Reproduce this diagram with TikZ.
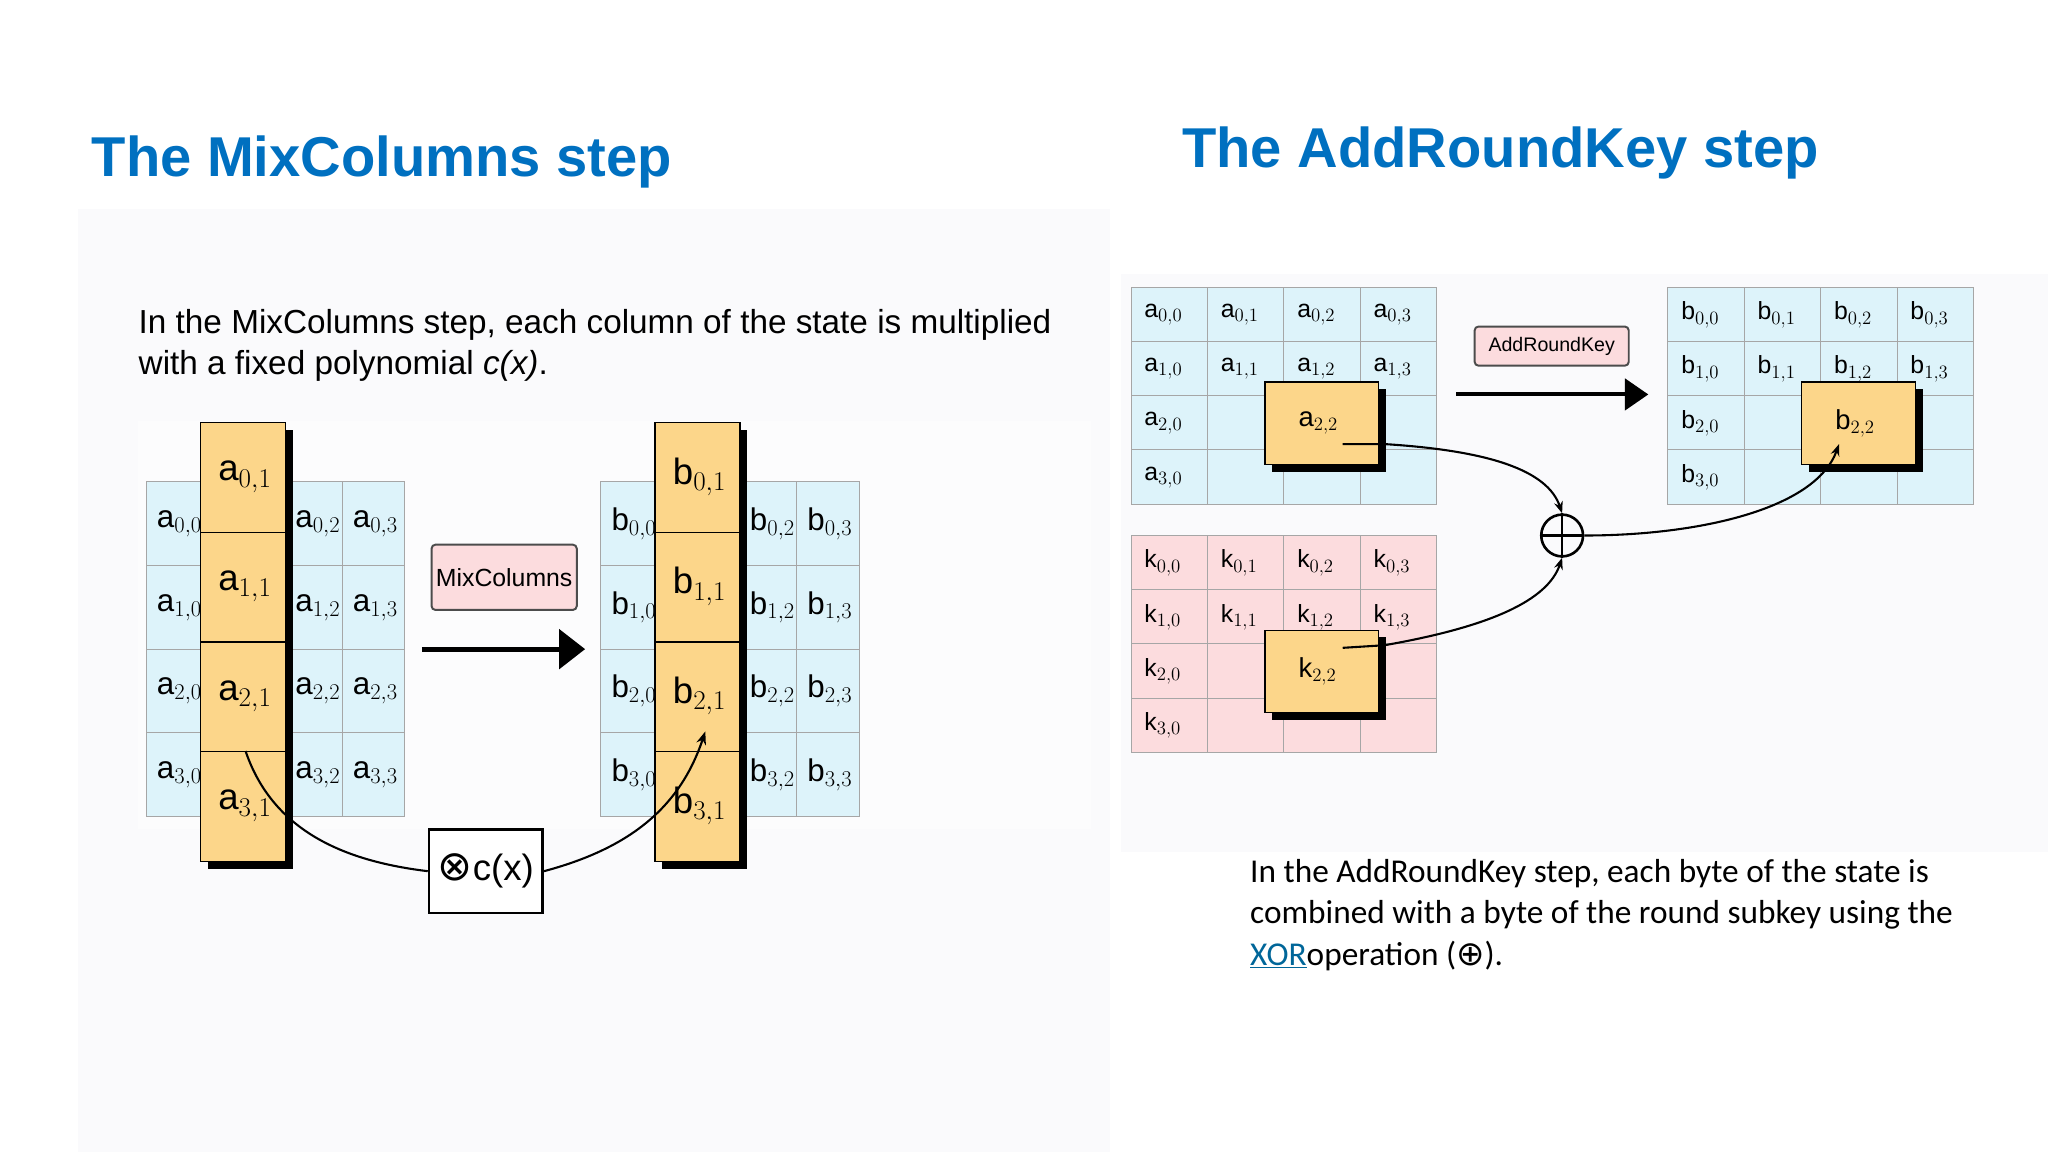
\documentclass[tikz,border=0pt]{standalone}
\usepackage{fontspec}
\setmainfont{Liberation Sans}
\newfontfamily\calfnt{Carlito}
\newfontfamily\djfnt{DejaVu Sans}
\usetikzlibrary{arrows.meta,calc}
\definecolor{ttl}{RGB}{0,112,192}
\definecolor{cellb}{RGB}{221,243,250}
\definecolor{cello}{RGB}{252,214,138}
\definecolor{cellp}{RGB}{252,220,222}
\definecolor{pnl}{RGB}{250,250,252}
\tikzset{
 ttlx/.style={anchor=base west,text=ttl,font=\bfseries\fontsize{43}{46}\selectfont,inner sep=0},
 cellx/.style={draw=gray!70,line width=0.8pt},
 hl/.style={draw=black,fill=cello,line width=1pt},
 shad/.style={fill=black},
 lab/.style={font=\fontsize{24}{26}\selectfont,inner sep=0},
 labs/.style={font=\fontsize{19}{21}\selectfont,inner sep=0},
 conn/.style={line width=1.6pt},
}
\begin{document}
\begin{tikzpicture}[x=1pt,y=-1pt]
\useasboundingbox[fill=white] (0,0) rectangle (1568,882);
\fill[pnl] (60,160) rectangle (850,882);
\fill[pnl] (858,210) rectangle (1568,652);
\fill[white!50!pnl] (106,322) rectangle (835,635);
\node[ttlx] at (70,135) {The MixColumns step};
\node[ttlx] at (905,128) {The AddRoundKey step};
\node[anchor=base west,inner sep=0,font=\fontsize{25.5}{32}\selectfont] at (106,255)
 {In the MixColumns step, each column of the state is multiplied};
\node[anchor=base west,inner sep=0,font=\fontsize{25.5}{32}\selectfont] at (106,287)
 {with a fixed polynomial \textit{c(x)}.};
\node[anchor=base west,inner sep=0,font=\calfnt\fontsize{25.5}{32}\selectfont] at (957,676)
 {In the AddRoundKey step, each byte of the state is};
\node[anchor=base west,inner sep=0,font=\calfnt\fontsize{25.5}{32}\selectfont] at (957,707)
 {combined with a byte of the round subkey using the};
\node[anchor=base west,inner sep=0,font=\calfnt\fontsize{25.5}{32}\selectfont] at (957,739)
 {\textcolor{teal!80!blue}{\underline{XOR}}operation ({\djfnt\fontsize{26}{28}\selectfont ⊕}).};
% ---- MixColumns grids
\foreach \L/\x in {a/112,b/460}{
 \foreach \r in {0,...,3}{
  \foreach \c/\cx/\w in {0/0/43,2/106/44,3/150/48}{
   \pgfmathsetmacro\xx{\x+\cx}
   \draw[cellx,fill=cellb] (\xx,369+64*\r) rectangle ++(\w,64);
   \node[lab,anchor=west] at (\xx+8,401+64*\r) {\L$_{\r,\c}$};
  }}
 \foreach \r in {0,...,3}{
  \fill[shad] (\x+47,329+84*\r) rectangle ++(65,84);
  \node[hl,minimum width=65pt,minimum height=84pt,inner sep=0,anchor=north west] (\L c\r) at (\x+41,323+84*\r) {};
  \node[lab,anchor=west,font=\fontsize{28}{30}\selectfont] at (\x+55,365+84*\r) {\L$_{\r,1}$};
 }
}
\node[draw=black!70,fill=cellp,rounded corners=3pt,line width=1.5pt,minimum width=100pt,minimum height=50pt,font=\fontsize{19}{20}\selectfont] (mcl) at (386,442) {MixColumns};
\coordinate (m1) at (323,497); \coordinate (m2) at (448,497);
\draw[line width=4pt,-{Triangle[length=20pt,width=30pt]}] (m1) -- (m2);
\node[draw=black,fill=white,line width=2pt,minimum width=87pt,minimum height=64pt,font=\fontsize{28}{30}\selectfont] (cx) at (372,667) {{\djfnt\fontsize{32}{34}\selectfont ⊗}c(x)};
\coordinate (ca) at (188,575);
\coordinate (cb) at (540,560);
\draw[conn] (ca) .. controls (210,640) and (270,660) .. (cx.west);
\draw[conn,-{Stealth[length=10pt]}] (cx.east) .. controls (480,650) and (520,620) .. (cb);
% ---- AddRoundKey grids
\foreach \L/\x/\y/\col in {a/866/220/cellb,k/866/410/cellp,b/1277/220/cellb}{
 \foreach \r in {0,...,3}{\foreach \c in {0,...,3}{
  \draw[cellx,fill=\col] (\x+58.5*\c,\y+41.5*\r) rectangle ++(58.5,41.5);
  \pgfmathtruncatemacro\skip{(\r>=2 && \r<=3 && \c>=1 && \c<=3) ? 1 : 0}
  \ifnum\skip=0
  \node[labs,anchor=west] at (\x+58.5*\c+10,\y+41.5*\r+21) {\L$_{\r,\c}$};
  \fi
 }}
 \fill[shad] (\x+108,\y+78) rectangle ++(87,63);
 \node[hl,minimum width=87pt,minimum height=63pt,inner sep=0,anchor=north west] (\L22) at (\x+102,\y+72) {};
 \node[labs,anchor=west,font=\fontsize{21}{23}\selectfont] at (\x+128,\y+104) {\L$_{2,2}$};
}
\node[draw=black!70,fill=cellp,rounded corners=3pt,line width=1.5pt,minimum width=118pt,minimum height=30pt,font=\fontsize{15}{16}\selectfont] (arl) at (1188,265) {AddRoundKey};
\coordinate (r1) at (1115,302); \coordinate (r2) at (1262,302);
\draw[line width=3pt,-{Triangle[length=18pt,width=24pt]}] (r1) -- (r2);
\node[circle,draw=black,line width=2pt,minimum size=32pt,inner sep=0] (xo) at (1196,410) {};
\draw[line width=2pt] (xo.north) -- (xo.south) (xo.west) -- (xo.east);
\coordinate (ap) at (1028,340);
\coordinate (kp) at (1028,496);
\coordinate (bp) at (1408,340);
\draw[conn,-{Stealth[length=9pt]}] (ap) -- (1060,340) .. controls (1140,345) and (1185,360) .. (xo.north);
\draw[conn,-{Stealth[length=9pt]}] (kp) -- (1060,494) .. controls (1140,480) and (1185,460) .. (xo.south);
\draw[conn,-{Stealth[length=9pt]}] (xo.east) .. controls (1300,410) and (1390,390) .. (bp);
\end{tikzpicture}
\end{document}
